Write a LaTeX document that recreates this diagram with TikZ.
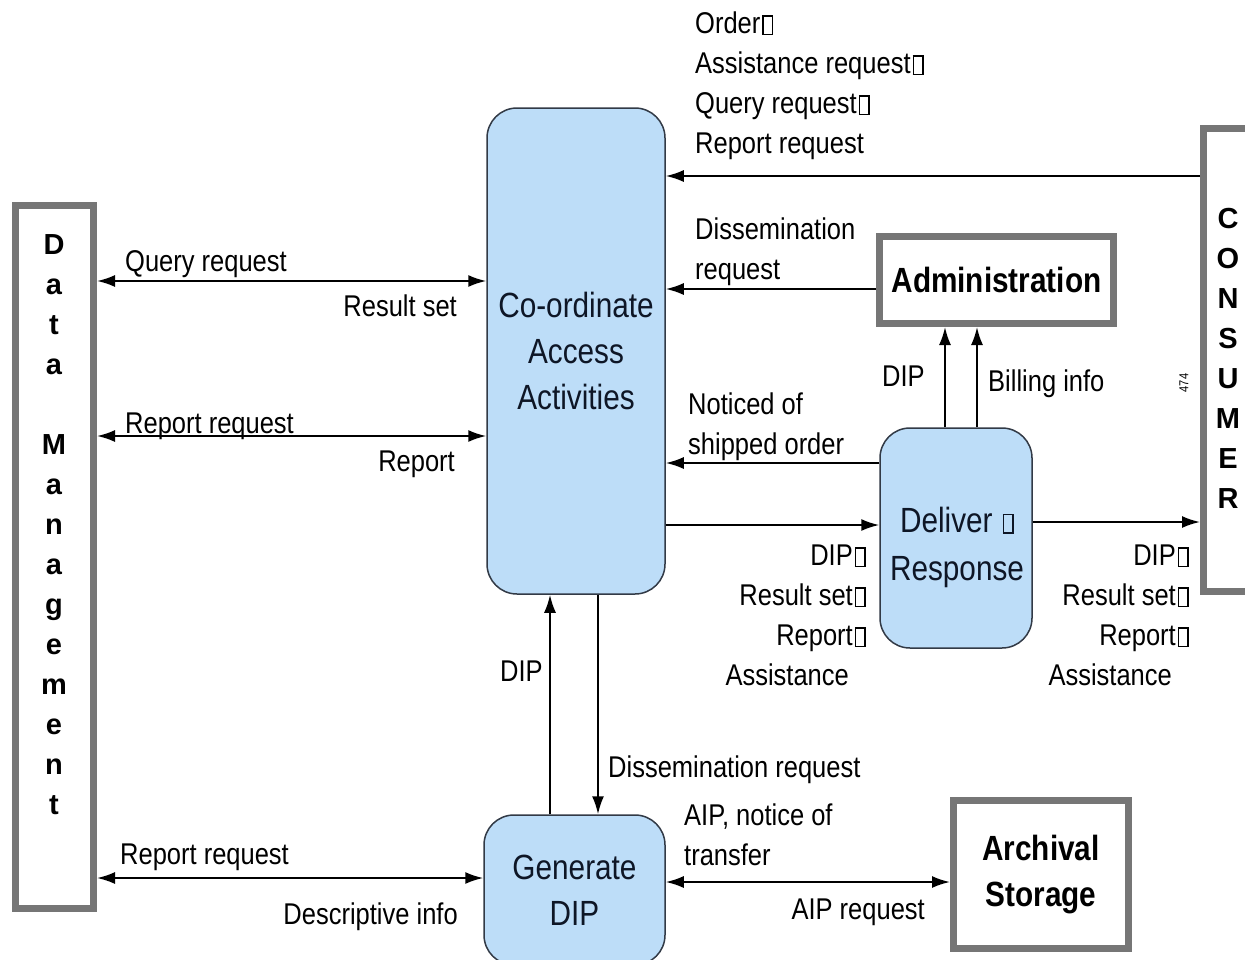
\documentclass[tikz,border=0pt]{standalone}
\usepackage{fontspec}
\setmainfont[FakeStretch=0.85]{Liberation Sans}
\newfontfamily\widesans{Liberation Sans}
\usetikzlibrary{arrows.meta}
\definecolor{boxgray}{RGB}{118,118,118}
\definecolor{procfill}{RGB}{189,221,248}
\definecolor{procline}{RGB}{50,58,70}
\definecolor{proctext}{RGB}{14,22,38}
\newcommand\tofu{\hspace{2pt}{\fboxsep=0pt\fboxrule=1.5pt\fbox{\rule{0pt}{17pt}\hspace{8pt}}}}
\tikzset{
  ext/.style={draw=boxgray, line width=7pt, fill=white, inner sep=0pt},
  proc/.style={draw=procline, line width=1.5pt, fill=procfill, rounded corners=30pt, inner sep=0pt,
    text=proctext, font=\fontsize{35}{46}\selectfont, align=center},
  conn/.style={line width=2pt, -{Latex[length=18pt,width=12pt]}},
  both/.style={line width=2pt, {Latex[length=18pt,width=12pt]}-{Latex[length=18pt,width=12pt]}},
  lbl/.style={inner sep=0pt, font=\fontsize{30}{40}\selectfont, execute at begin node={\vphantom{Ab}}},
  vert/.style={font=\widesans\bfseries\fontsize{29}{40}\selectfont, align=center, inner sep=0pt},
}
\begin{document}
\begin{tikzpicture}[x=1pt,y=-1pt]
\useasboundingbox (0,0) rectangle (1245,959);
\clip (0,0) rectangle (1245,959);
\fill[white] (0,0) rectangle (1245,959);

% external entities
\node[ext, minimum width=78pt, minimum height=703pt] (dm) at (54.5,557) {};
\node[vert] (dmtext) at (54,525) {D\\a\\t\\a\\[40pt]M\\a\\n\\a\\g\\e\\m\\e\\n\\t};
\node[ext, minimum width=66.5pt, minimum height=463pt] (cons) at (1236.75,360) {};
\node[vert] (constext) at (1228,358) {C\\O\\N\\S\\U\\M\\E\\R};
\node[ext, minimum width=234pt, minimum height=87pt, font=\bfseries\fontsize{35}{40}\selectfont] (admin) at (996.5,280) {Administration};
\node[ext, minimum width=175pt, minimum height=148pt, font=\bfseries\fontsize{35}{46}\selectfont, align=center] (arch) at (1041,874.5) {Archival\\Storage};

% processes
\node[proc, minimum width=178pt, minimum height=486pt] (coord) at (576,351) {Co-ordinate\\Access\\Activities};
\node[proc, minimum width=152pt, minimum height=220pt] (deliver) at (956,538) {};
\node[inner sep=0pt, text=proctext, font=\fontsize{35}{48}\selectfont, align=center] (delivertext) at (957,547) {Deliver \tofu\\Response};
\node[proc, minimum width=181pt, minimum height=150pt] (gen) at (574.5,890) {Generate\\DIP};

% connectors
\draw[conn] (cons.west |- 0,176) -- (coord.east |- 0,176);
\draw[conn] (admin.west |- 0,289) -- (coord.east |- 0,289);
\draw[conn] (deliver.west |- 0,463) -- (coord.east |- 0,463);
\draw[conn] (coord.east |- 0,525) -- (deliver.west |- 0,525);
\draw[conn] (deliver.east |- 0,522) -- (cons.west |- 0,522);
\draw[conn] (945,0 |- deliver.north) -- (945,0 |- admin.south);
\draw[conn] (977,0 |- deliver.north) -- (977,0 |- admin.south);
\draw[both] (dm.east |- 0,281) -- (coord.west |- 0,281);
\draw[both] (dm.east |- 0,436) -- (coord.west |- 0,436);
\draw[both] (dm.east |- 0,878) -- (gen.west |- 0,878);
\draw[conn] (550,0 |- gen.north) -- (550,0 |- coord.south);
\draw[conn] (598,0 |- coord.south) -- (598,0 |- gen.north);
\draw[both] (gen.east |- 0,882) -- (arch.west |- 0,882);

% labels
\node[lbl, anchor=north west, align=left] (lconsumer) at (695,12) {Order\tofu\\Assistance request\tofu\\Query request\tofu\\Report request};
\node[lbl, anchor=north west, align=left] (ldissem) at (695,218) {Dissemination\\request};
\node[lbl, anchor=north west, align=left] (lnotice) at (688,393) {Noticed of\\shipped order};
\node[lbl, anchor=north east, align=right] (lmid) at (866,545) {DIP\tofu\\Result set\tofu\\Report\tofu\\Assistance\hspace*{17pt}};
\node[lbl, anchor=north east, align=right] (lright) at (1189,545) {DIP\tofu\\Result set\tofu\\Report\tofu\\Assistance\hspace*{17pt}};
\node[lbl, anchor=base west] (ldipadm) at (882,386) {DIP};
\node[lbl, anchor=base west] (lbilling) at (988,391) {Billing info};
\node[lbl, anchor=base west] (lqr) at (125,271) {Query request};
\node[lbl, anchor=base east] (lrs) at (457,316) {Result set};
\node[lbl, anchor=base west] (lrr) at (125,433) {Report request};
\node[lbl, anchor=base east] (lrep) at (455,471) {Report};
\node[lbl, anchor=base west] (ldip) at (500,681) {DIP};
\node[lbl, anchor=base west] (ldr) at (608,777) {Dissemination request};
\node[lbl, anchor=base west] (lrr2) at (120,864) {Report request};
\node[lbl, anchor=base east] (ldi) at (458,924) {Descriptive info};
\node[lbl, anchor=north west, align=left] (laip) at (684,804) {AIP, notice of\\transfer};
\node[lbl, anchor=base east] (laipr) at (925,919) {AIP request};
\node[rotate=90, font=\fontsize{13}{13}\selectfont, inner sep=0pt] (l474) at (1184,383) {474};
\end{tikzpicture}
\end{document}
